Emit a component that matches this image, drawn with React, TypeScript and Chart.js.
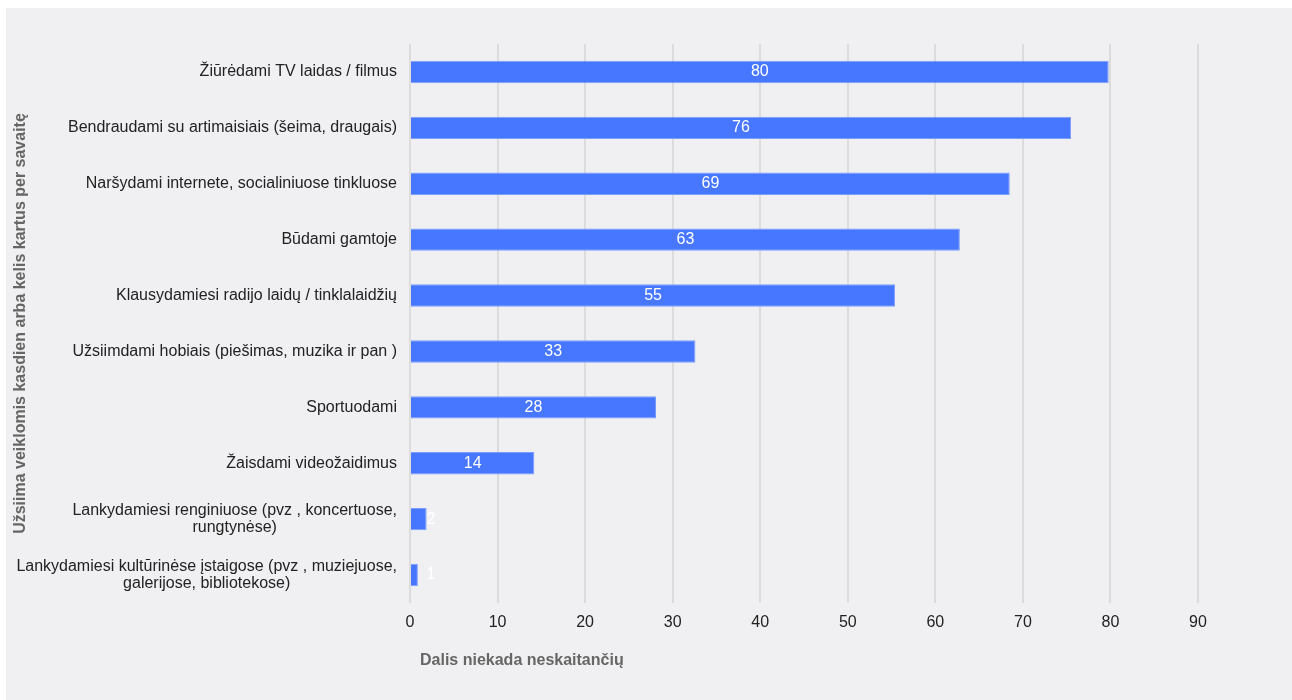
import React, { useEffect, useRef } from "react";
import { Chart, registerables } from "chart.js";

Chart.register(...registerables);

const categories: string[][] = [
  ["Žiūrėdami TV laidas / filmus"],
  ["Bendraudami su artimaisiais (šeima, draugais)"],
  ["Naršydami internete, socialiniuose tinkluose"],
  ["Būdami gamtoje"],
  ["Klausydamiesi radijo laidų / tinklalaidžių"],
  ["Užsiimdami hobiais (piešimas, muzika ir pan )"],
  ["Sportuodami"],
  ["Žaisdami videožaidimus"],
  ["Lankydamiesi renginiuose (pvz , koncertuose,", "rungtynėse)"],
  ["Lankydamiesi kultūrinėse įstaigose (pvz , muziejuose,", "galerijose, bibliotekose)"],
];

const values: number[] = [79.8, 75.5, 68.5, 62.8, 55.4, 32.6, 28.1, 14.2, 1.9, 0.9];

const xTicks: number[] = [0, 10, 20, 30, 40, 50, 60, 70, 80, 90];

const yTitle = "Užsiima veiklomis kasdien arba kelis kartus per savaitę";
const xTitle = "Dalis niekada neskaitančių";

const FONT = "'Liberation Sans', Arial, sans-serif";

const overlayPlugin = {
  id: "overlay",
  afterDatasetsDraw(chart: any) {
    const ctx = chart.ctx;
    const area = chart.chartArea;
    const yScale = chart.scales.y;
    const meta = chart.getDatasetMeta(0);
    ctx.save();
    // category labels
    ctx.font = `16px ${FONT}`;
    ctx.fillStyle = "#222222";
    ctx.textBaseline = "middle";
    ctx.textAlign = "center";
    categories.forEach((lines, i) => {
      const yc = yScale.getPixelForTick(i);
      const widths = lines.map((l) => ctx.measureText(l).width);
      const maxW = Math.max(...widths);
      const right = area.left - 13;
      const lh = 17;
      const startY = yc - ((lines.length - 1) * lh) / 2;
      lines.forEach((l, j) => {
        ctx.fillText(l, right - maxW / 2, startY + j * lh);
      });
    });
    // value labels
    ctx.fillStyle = "#ffffff";
    meta.data.forEach((bar: any, i: number) => {
      const txt = String(Math.round(values[i]));
      const center = (bar.base + bar.x) / 2;
      const x = Math.max(center, area.left + 21);
      ctx.fillText(txt, x, bar.y);
    });
    // x title
    ctx.font = `bold 16px ${FONT}`;
    ctx.fillStyle = "#666666";
    ctx.textAlign = "left";
    ctx.fillText(xTitle, area.left + 10, area.bottom + 58);
    ctx.restore();
  },
};

export default function App() {
  const ref = useRef<HTMLCanvasElement | null>(null);
  useEffect(() => {
    if (!ref.current) return;
    const chart = new Chart(ref.current, {
      type: "bar",
      data: {
        labels: categories.map((c) => c.join(" ")),
        datasets: [
          {
            data: values,
            backgroundColor: "#4777ff",
            borderColor: "#7a9dff",
            borderWidth: 1,
            barPercentage: 0.8,
            categoryPercentage: 0.5,
          },
        ],
      },
      options: {
        indexAxis: "y",
        animation: false,
        responsive: false,
        maintainAspectRatio: false,
        layout: { padding: { left: 0, top: 36, right: 94, bottom: 0 } },
        plugins: {
          legend: { display: false },
          tooltip: { enabled: false },
        },
        scales: {
          x: {
            min: 0,
            max: 90,
            afterBuildTicks: (scale: any) => {
              scale.ticks = xTicks.map((v) => ({ value: v }));
            },
            afterFit: (scale: any) => {
              scale.height = 97;
            },
            grid: { color: "#dcdcdc", lineWidth: 2, drawTicks: false },
            border: { display: false },
            ticks: {
              padding: 10,
              color: "#222222",
              font: { family: FONT, size: 16 },
            },
          },
          y: {
            afterFit: (scale: any) => {
              scale.width = 404;
            },
            grid: { display: false, drawTicks: false },
            border: { display: false },
            ticks: { display: false },
            title: {
              display: true,
              text: yTitle,
              color: "#666666",
              font: { family: FONT, size: 16, weight: "bold" },
              padding: { top: 5, bottom: 0 },
            },
          },
        },
      },
      plugins: [overlayPlugin],
    } as any);
    return () => chart.destroy();
  }, []);
  return (
    <div>
      <style>{"body{margin:0;background:#ffffff}"}</style>
      <div
        style={{
          marginLeft: 6,
          marginTop: 8,
          width: 1286,
          height: 692,
          background: "#f0f0f2",
        }}
      >
        <canvas ref={ref} width={1286} height={692} style={{ display: "block" }} />
      </div>
    </div>
  );
}
